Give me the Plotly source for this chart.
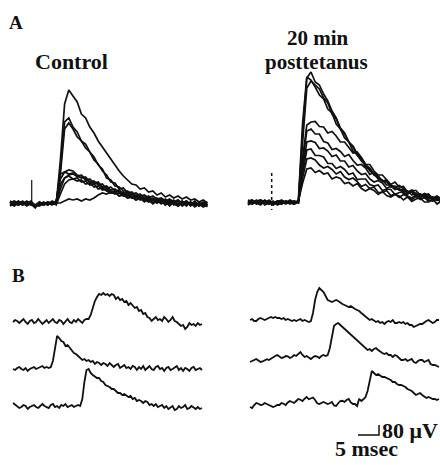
import numpy as np
import plotly.graph_objects as go

W, H = 440, 465
PX_PER_MS = 4.2      # 5 msec scale bar = 21 px
UV_PER_PX = 8.0      # 80 uV scale bar = 10 px
DT_A_MS = 1.0
DT_B_MS = 0.5

# ---------------- Panel A, Control (uV) ----------------
A_CTRL_BIG = [0, 16, -8, 8, -16, 8, -24, 0, 8, -8, 16, 0,
              352, 800, 912, 864, 816, 720, 688, 616, 568, 504, 456, 400, 360, 304, 264, 224,
              192, 160, 152, 120, 128, 96, 104, 72, 88, 56, 72, 48, 64, 40, 56, 32, 40, 16, 32, 8]
A_CTRL_MED1 = [16, -8, 24, 0, 8, 16, -16, 8, -8, 16, 0, 8,
               280, 656, 688, 616, 576, 504, 480, 416, 376, 312, 280, 208, 192, 144, 136, 104,
               104, 80, 88, 64, 72, 48, 64, 40, 48, 24, 40, 16, 32, 8, 24, 0, 16, -8, 8, -8]
A_CTRL_MED2 = [-16, 8, 0, 24, -8, 0, -8, 16, 0, 8, -8, 16,
               240, 600, 648, 600, 536, 504, 448, 416, 352, 320, 264, 232, 176, 168, 120, 128,
               88, 96, 64, 80, 48, 64, 32, 48, 16, 40, 8, 32, 0, 24, -8, 16, -16, 8, -8, 0]
A_CTRL_S1 = [8, 24, 8, -8, 16, -8, -16, -8, 16, 0, 8, 24,
             200, 256, 272, 264, 232, 224, 192, 200, 168, 176, 136, 144, 112, 120, 88, 96,
             64, 80, 48, 64, 32, 56, 24, 40, 8, 32, 0, 24, -8, 16, -16, 16, -8, 8, -16, 0]
A_CTRL_S2 = [-8, 0, 16, 8, 0, 24, -24, 8, 0, 16, 8, 0,
             240, 256, 240, 248, 216, 232, 200, 176, 184, 152, 160, 120, 136, 104, 112, 80,
             96, 56, 72, 40, 56, 24, 48, 16, 40, 8, 32, -8, 24, 0, 24, -16, 16, -8, 8, -24]
A_CTRL_S3 = [24, 8, -8, 16, 8, -8, -8, 0, 8, -8, 24, 8,
             120, 208, 232, 240, 224, 208, 216, 176, 160, 168, 128, 136, 104, 96, 104, 72,
             88, 48, 64, 40, 48, 16, 40, 8, 32, -8, 24, 8, 32, -16, 8, -8, 24, -16, 0, 16]
A_CTRL_S4 = [0, -16, 8, 0, 24, 0, -32, 16, -8, 8, 0, 16,
             160, 208, 224, 200, 208, 176, 184, 152, 160, 120, 128, 104, 88, 96, 64, 72,
             48, 64, 32, 48, 16, 40, 8, 32, 0, 24, -16, 16, 0, 24, -8, 8, -24, 0, 16, -8]
A_CTRL_S5 = [16, 0, 24, -8, 8, 16, -8, -16, 8, 0, 16, -8,
             80, 160, 192, 200, 184, 192, 160, 168, 136, 144, 112, 120, 88, 96, 64, 80,
             48, 56, 32, 48, 24, 32, 0, 24, 8, 16, -8, 24, -16, 8, 16, -8, 8, -16, 8, -8]
A_CTRL_FAIL = [8, 8, -8, 16, 0, 8, -16, 0, -8, 8, 0, 8,
               8, 24, 40, 32, 40, 24, 40, 32, 48, 72, 88, 80, 96, 80, 88, 64,
               72, 48, 56, 32, 48, 16, 32, 8, 24, -8, 16, 0, -16, 8, -8, 16, -16, 0, -24, -8]
A_CTRL = [A_CTRL_BIG, A_CTRL_MED1, A_CTRL_MED2, A_CTRL_S1, A_CTRL_S2,
          A_CTRL_S3, A_CTRL_S4, A_CTRL_S5, A_CTRL_FAIL]
A_CTRL_ARTIFACT_T = [5.17, 5.17]
A_CTRL_ARTIFACT_V = [0, 192]

# ---------------- Panel A, 20 min posttetanus (uV) ----------------
A_PT_R1 = [0, 24, -8, 16, 0, 8, -16, 8, -8, 16, 0, 8, 16,
           560, 1000, 1048, 968, 944, 872, 816, 736, 680, 600, 560, 488, 448, 384, 352, 288,
           272, 224, 208, 176, 168, 128, 128, 104, 112, 88, 88, 64, 72, 56, 64, 40, 56, 32]
A_PT_R2 = [16, -8, 8, 24, -16, 0, 8, -8, 16, 0, 8, -8, 24,
           640, 1008, 984, 928, 864, 832, 752, 720, 632, 592, 520, 488, 416, 384, 336, 304,
           256, 232, 192, 184, 144, 144, 112, 112, 88, 96, 64, 80, 48, 64, 40, 48, 24, 40]
A_PT_R3 = [-8, 16, 0, 8, 16, -8, 0, 16, 8, -8, 16, 0, 8,
           480, 920, 976, 944, 912, 840, 800, 712, 672, 592, 552, 488, 456, 392, 360, 304,
           280, 232, 216, 176, 176, 136, 136, 104, 104, 80, 88, 56, 72, 40, 56, 32, 40, 24]
A_PT_M1 = [8, 0, 24, -8, 8, 16, -8, 0, 16, 8, -8, 16, 0,
           360, 624, 648, 652, 612, 608, 560, 572, 536, 488, 488, 444, 400, 408, 364, 308,
           308, 256, 224, 224, 188, 148, 168, 128, 132, 88, 100, 100, 64, 60, 72, 32, 48, 24]
A_PT_M2 = [-16, 8, 16, 0, 24, 0, 16, -16, 0, 8, 16, 0, 16,
           320, 576, 592, 552, 552, 492, 480, 428, 436, 412, 372, 388, 340, 304, 308, 280,
           228, 244, 204, 176, 184, 144, 124, 140, 116, 84, 104, 72, 52, 76, 64, 32, 52, 28]
A_PT_M3 = [16, 24, -8, 8, 0, 16, -8, 8, 24, 0, 8, -8, 8,
           280, 488, 496, 484, 436, 440, 416, 372, 384, 336, 336, 288, 300, 256, 228, 236,
           192, 168, 180, 160, 116, 136, 108, 116, 76, 72, 92, 48, 64, 68, 32, 48, 20, 44]
A_PT_M4 = [0, -8, 16, 24, 8, -8, 8, 0, -8, 16, 0, 16, 0,
           240, 424, 432, 380, 380, 368, 316, 316, 276, 292, 268, 228, 240, 188, 192, 192,
           148, 136, 144, 100, 112, 108, 68, 84, 88, 56, 40, 64, 44, 60, 24, 16, 32, 20]
A_PT_M5 = [24, 8, 0, -16, 16, 8, -16, 16, 8, 0, 24, 8, 8,
           200, 352, 360, 344, 304, 280, 292, 268, 232, 252, 208, 188, 200, 172, 132, 148,
           116, 128, 84, 84, 100, 60, 72, 44, 68, 52, 24, 56, 28, 44, 12, 28, 36, 4]
A_PT_M6 = [-8, 16, 8, 16, -8, 24, 0, -8, 16, 8, 0, -8, 16,
           160, 272, 280, 244, 260, 232, 240, 192, 208, 196, 156, 164, 136, 156, 116, 96,
           116, 100, 68, 92, 60, 48, 68, 56, 24, 48, 12, 32, 40, 8, 8, 32, -8, 16]
A_PT = [A_PT_R1, A_PT_R2, A_PT_R3, A_PT_M1, A_PT_M2, A_PT_M3, A_PT_M4, A_PT_M5, A_PT_M6]
A_PT_ARTIFACT_T = [5.64, 5.64]
A_PT_ARTIFACT_V = [240, -56]

# ---------------- Panel B, single sweeps (uV, one sample per 0.5 ms) ----------------
B_CTRL_1 = [0, 16, 8, -8, 8, 24, 0, -16, 8, 16, -8, 0, 24, 8, -16, 0, 16, -8, 8, 24,
            0, -8, 16, 8, -16, 8, 24, 0, -8, 16, 0, 24, 8, -8, 16, 24,
            24, 56, 112, 168, 200, 224, 216, 232, 216, 224, 208, 224, 216, 184, 200, 176,
            184, 160, 168, 136, 152, 128, 112, 120, 88, 96, 64, 72, 40, 32, 8, 24, 40, 16,
            24, 8, 40, 24, 0, 16, 40, 8, 0, -16, -32, -24, -56, -40, -8, -24, -16, -32,
            -8, -24, -16]
B_CTRL_2 = [0, -8, 8, 16, 0, -8, 8, -16, 0, 8, 16, 0, 8, 16, 24, 8, 16, 8,
            16, 64, 176, 264, 248, 224, 216, 184, 192, 168, 152, 128, 120, 104, 96, 72,
            80, 64, 72, 56, 64, 40, 56, 48, 32, 48, 40, 24, 48, 32, 16, 32, 40, 8, 24, 32,
            8, 16, 0, 24, 16, -8, 16, 0, 24, -8, 8, 24, 0, -8, 16, 24, 0, 8, -16, 8, 16,
            -8, 0, 16, 24, -8, 8, -16, 8, 0, -16, 8, 16, -8, 0, 8, -8]
B_CTRL_3 = [32, 16, 8, -8, 0, 16, 8, -16, 0, 8, 16, 0, -8, 8, 24, 8, 0, -8, 16, 24,
            0, 8, -8, 16, 8, 24, 0, 8, 16, 0, 8, 16, 8,
            64, 200, 296, 304, 272, 256, 240, 232, 232, 208, 200, 176, 168, 160, 144, 144,
            128, 112, 112, 96, 104, 88, 80, 88, 64, 72, 48, 56, 48, 32, 48, 40, 16, 24, 8,
            24, 0, 8, 16, -8, 8, -16, 0, 8, -24, -16, 8, -8, 0, 16, -16, -8, 8, -8, -16,
            0, -16, -8]
B_PT_1 = [0, 8, -8, -8, 8, 16, 8, 0, 8, 16, 24, 16, 24, 16, 16, 8, 16, 0, 8, 0,
          -8, 0, -8, 0, 8, -8, 0, -8, -16, -8,
          56, 160, 224, 256, 240, 224, 192, 160, 152, 144, 152, 160, 152, 136, 128, 120,
          112, 104, 112, 96, 88, 80, 72, 56, 40, 24, 16, 0, 8, -8, -16, -8, -24, -16, -32,
          -16, -8, -16, 0, -24, -24, -16, -24, -16, -32, -24, -40, -40, -56, -48, -40, -32,
          -32, -16, -8, 0, -16, -24, -16, 0, 0]
B_PT_2 = [0, 8, 16, 24, 12, 0, 4, 16, 22, 16, 28, 40, 48, 56, 40, 32, 36, 48, 46, 32,
          40, 56, 48, 64, 80, 56, 40, 48, 32, 24, 38, 48, 44, 32, 48, 56, 48, 56, 110, 200,
          288, 304, 312, 296, 280, 272, 256, 232, 216, 208, 192, 168, 152, 144, 120, 104,
          96, 104, 88, 104, 112, 96, 80, 72, 64, 72, 56, 56, 40, 56, 48, 32, 16, 16, 24, 8,
          16, 24, 0, -8, 8, 16, 16, 0, 8, 16, -16, -24, -24, -32, -40]
B_PT_3 = [0, -8, 16, 32, 26, 16, 18, 32, 24, 16, 10, 0, 6, 16, 16, 32, 26, 16, 36, 48,
          40, 32, 48, 64, 58, 48, 66, 80, 62, 72, 76, 56, 30, 24, 33, 40, 32, 24, 30, 40,
          12, 8, 30, 48, 50, 40, 56, 64, 36, 24, 24, 8, 66, 48, 62, 80, 128, 224, 288, 272,
          256, 264, 248, 240, 240, 232, 224, 216, 200, 200, 184, 176, 176, 168, 160, 144,
          136, 128, 112, 96, 104, 112, 96, 80, 72, 80, 72, 64, 64, 56, 64]

SCALE_MS = 5
SCALE_UV = 80

# ---------------- layout: trace origins in page pixels ----------------
GROUPS = [
    # (traces, sampling interval, origin_x_px, origin_y_px, line width)
    (A_CTRL, DT_A_MS, 10, 204, 1.7),
    (A_PT, DT_A_MS, 248, 203, 1.7),
    ([B_CTRL_1], DT_B_MS, 13, 322, 1.8),
    ([B_CTRL_2], DT_B_MS, 13, 369, 1.8),
    ([B_CTRL_3], DT_B_MS, 13, 407, 1.8),
    ([B_PT_1], DT_B_MS, 250, 320, 1.8),
    ([B_PT_2], DT_B_MS, 250, 362, 1.8),
    ([B_PT_3], DT_B_MS, 250, 407, 1.8),
]
SCALEBAR_ORIGIN = (358, 435)
INK = "#111111"

fig = go.Figure()


def add_axes(n, ox, oy):
    xa = dict(domain=[0, 1], range=[-ox / PX_PER_MS, (W - ox) / PX_PER_MS],
              visible=False, fixedrange=True)
    ya = dict(domain=[0, 1], range=[(oy - H) * UV_PER_PX, oy * UV_PER_PX],
              visible=False, fixedrange=True)
    if n > 1:
        xa.update(overlaying="x", anchor=f"y{n}")
        ya.update(overlaying="y", anchor=f"x{n}")
    key = "" if n == 1 else str(n)
    fig.update_layout(**{f"xaxis{key}": xa, f"yaxis{key}": ya})
    return ("x" + key, "y" + key)


for n, (traces, dt, ox, oy, lw) in enumerate(GROUPS, start=1):
    xr, yr = add_axes(n, ox, oy)
    for v in traces:
        t = np.arange(len(v)) * dt
        fig.add_trace(go.Scatter(x=t, y=v, mode="lines", xaxis=xr, yaxis=yr,
                                 line=dict(color=INK, width=lw), hoverinfo="skip",
                                 showlegend=False))
    if n == 1:
        fig.add_trace(go.Scatter(x=A_CTRL_ARTIFACT_T, y=A_CTRL_ARTIFACT_V, mode="lines",
                                 xaxis=xr, yaxis=yr, line=dict(color=INK, width=1.2),
                                 showlegend=False, hoverinfo="skip"))
    if n == 2:
        fig.add_trace(go.Scatter(x=A_PT_ARTIFACT_T, y=A_PT_ARTIFACT_V, mode="lines",
                                 xaxis=xr, yaxis=yr,
                                 line=dict(color=INK, width=1.5, dash="dot"),
                                 showlegend=False, hoverinfo="skip"))

n_sb = len(GROUPS) + 1
xr, yr = add_axes(n_sb, *SCALEBAR_ORIGIN)
fig.add_trace(go.Scatter(x=[0, SCALE_MS, SCALE_MS], y=[0, 0, SCALE_UV], mode="lines",
                         xaxis=xr, yaxis=yr, line=dict(color=INK, width=1.5),
                         showlegend=False, hoverinfo="skip"))

FONT = "Liberation Serif, Times New Roman, serif"


def label(text, xpx, ypx, size):
    fig.add_annotation(text=f"<b>{text}</b>", x=xpx / W, y=1 - ypx / H, xref="paper",
                       yref="paper", xanchor="center", yanchor="middle", showarrow=False,
                       font=dict(family=FONT, size=size, color=INK))


label("A", 16, 22, 19)
label("Control", 71.5, 61, 22)
label("20 min", 317.5, 38.5, 21)
label("posttetanus", 316.5, 62, 21)
label("B", 18.5, 275, 19)
label(f"{SCALE_UV} μV", 410, 430, 22)
label(f"{SCALE_MS} msec", 366.5, 448, 22)

fig.update_layout(width=W, height=H, margin=dict(l=0, r=0, t=0, b=0),
                  paper_bgcolor="white", plot_bgcolor="white", showlegend=False)

fig.write_html("out.html")
